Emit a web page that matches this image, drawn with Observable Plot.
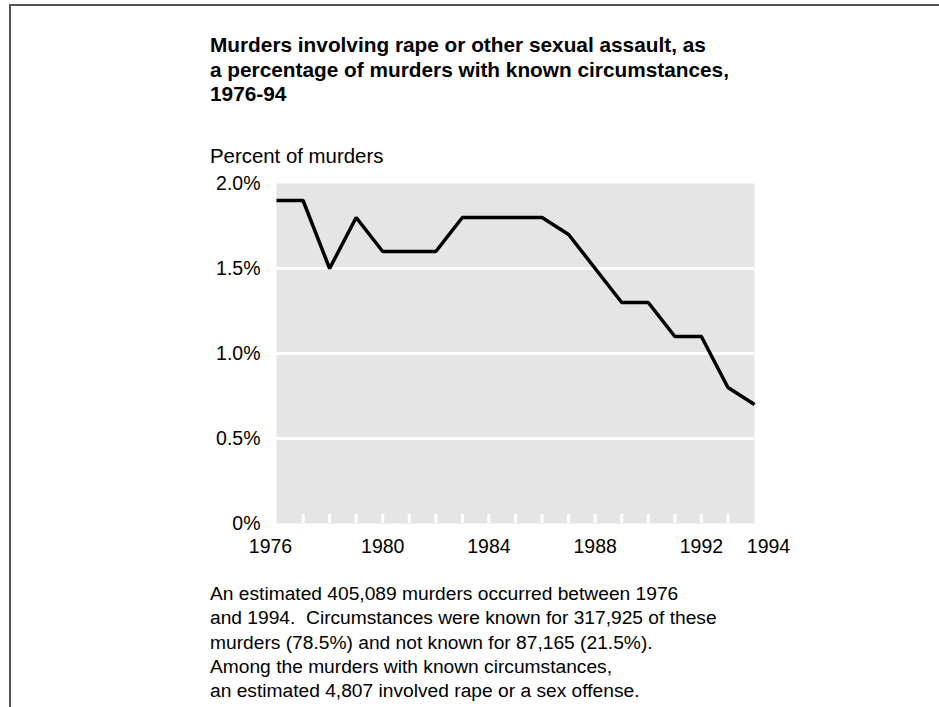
<!DOCTYPE html>
<html>
<head>
<meta charset="utf-8">
<script src="https://cdn.jsdelivr.net/npm/d3@7"></script>
<script src="https://cdn.jsdelivr.net/npm/@observablehq/plot@0.6"></script>
<style>
  html, body { margin: 0; padding: 0; background: #fff; }
  #wrap { position: relative; width: 939px; height: 707px; overflow: hidden; font-family: "Liberation Sans", Arial, Helvetica, sans-serif; color: #000; }
  #border { position: absolute; left: 9px; top: 4px; width: 940px; height: 720px; border-top: 2px solid #555; border-left: 2px solid #555; }
  #title { position: absolute; left: 210px; top: 33px; font-weight: bold; font-size: 20.8px; line-height: 24.5px; white-space: nowrap; }
  #ylab { position: absolute; left: 210px; top: 144px; font-size: 20.4px; line-height: 24px; white-space: nowrap; }
  #caption { position: absolute; left: 210px; top: 582px; font-size: 19.2px; line-height: 24.3px; white-space: nowrap; }
  #chart { position: absolute; left: 0; top: 0; }
  #chart svg text { font-family: "Liberation Sans", Arial, Helvetica, sans-serif; }
</style>
</head>
<body>
<div id="wrap">
  <div id="border"></div>
  <div id="chart"></div>
  <div id="title"></div>
  <div id="ylab"></div>
  <div id="caption"></div>
</div>
<script>
const titleLines = [
  "Murders involving rape or other sexual assault, as",
  "a percentage of murders with known circumstances,",
  "1976-94"
];
const yAxisLabel = "Percent of murders";
const captionLines = [
  "An estimated 405,089 murders occurred between 1976",
  "and 1994.  Circumstances were known for 317,925 of these",
  "murders (78.5%) and not known for 87,165 (21.5%).",
  "Among the murders with known circumstances,",
  "an estimated 4,807 involved rape or a sex offense."
];

const years = [1976, 1977, 1978, 1979, 1980, 1981, 1982, 1983, 1984, 1985, 1986, 1987, 1988, 1989, 1990, 1991, 1992, 1993, 1994];
const percents = [1.9, 1.9, 1.5, 1.8, 1.6, 1.6, 1.6, 1.8, 1.8, 1.8, 1.8, 1.7, 1.5, 1.3, 1.3, 1.1, 1.1, 0.8, 0.7];

const xTickLabelsMiddle = [1980, 1984, 1988, 1992];
const xTickLabelFirst = [1976];
const xTickLabelLast = [1994];
const yTicks = [0, 0.5, 1.0, 1.5, 2.0];
const yGridLines = [0.5, 1.0, 1.5];

document.getElementById("title").innerHTML = titleLines.join("<br>");
document.getElementById("ylab").textContent = yAxisLabel;
document.getElementById("caption").innerHTML = captionLines.map(s => s.replace(/  /g, "&nbsp; ")).join("<br>");

const data = years.map((y, i) => ({year: y, pct: percents[i]}));
const innerTickYears = years.slice(1, -1);
const fmtY = d => d === 0 ? "0%" : d.toFixed(1) + "%";

const chart = Plot.plot({
  width: 939,
  height: 707,
  marginLeft: 276,
  marginRight: 185,
  marginTop: 183,
  marginBottom: 184,
  style: {background: "transparent", fontSize: "19.5px", color: "#000"},
  x: {domain: [1976, 1994], axis: null, label: null},
  y: {domain: [0, 2], axis: null, label: null},
  marks: [
    Plot.frame({fill: "#e5e5e5", stroke: null}),
    Plot.ruleY(yGridLines, {stroke: "white", strokeWidth: 3}),
    Plot.axisX(innerTickYears, {tickSize: 9, dy: -9, stroke: "white", strokeWidth: 3, text: null, label: null}),
    Plot.axisX(xTickLabelsMiddle, {tickSize: 0, tickPadding: 16, label: null, tickFormat: d => String(d), fill: "#000", fontSize: 19.5}),
    Plot.axisX(xTickLabelFirst, {tickSize: 0, tickPadding: 16, dx: -6, label: null, tickFormat: d => String(d), fill: "#000", fontSize: 19.5}),
    Plot.axisX(xTickLabelLast, {tickSize: 0, tickPadding: 16, dx: 14, label: null, tickFormat: d => String(d), fill: "#000", fontSize: 19.5}),
    Plot.axisY(yTicks, {tickSize: 0, tickPadding: 16, label: null, tickFormat: fmtY, fill: "#000", fontSize: 19.5}),
    Plot.line(data, {x: "year", y: "pct", stroke: "black", strokeWidth: 3.5, strokeLinejoin: "miter", strokeLinecap: "butt"})
  ]
});
document.getElementById("chart").appendChild(chart);
</script>
</body>
</html>
